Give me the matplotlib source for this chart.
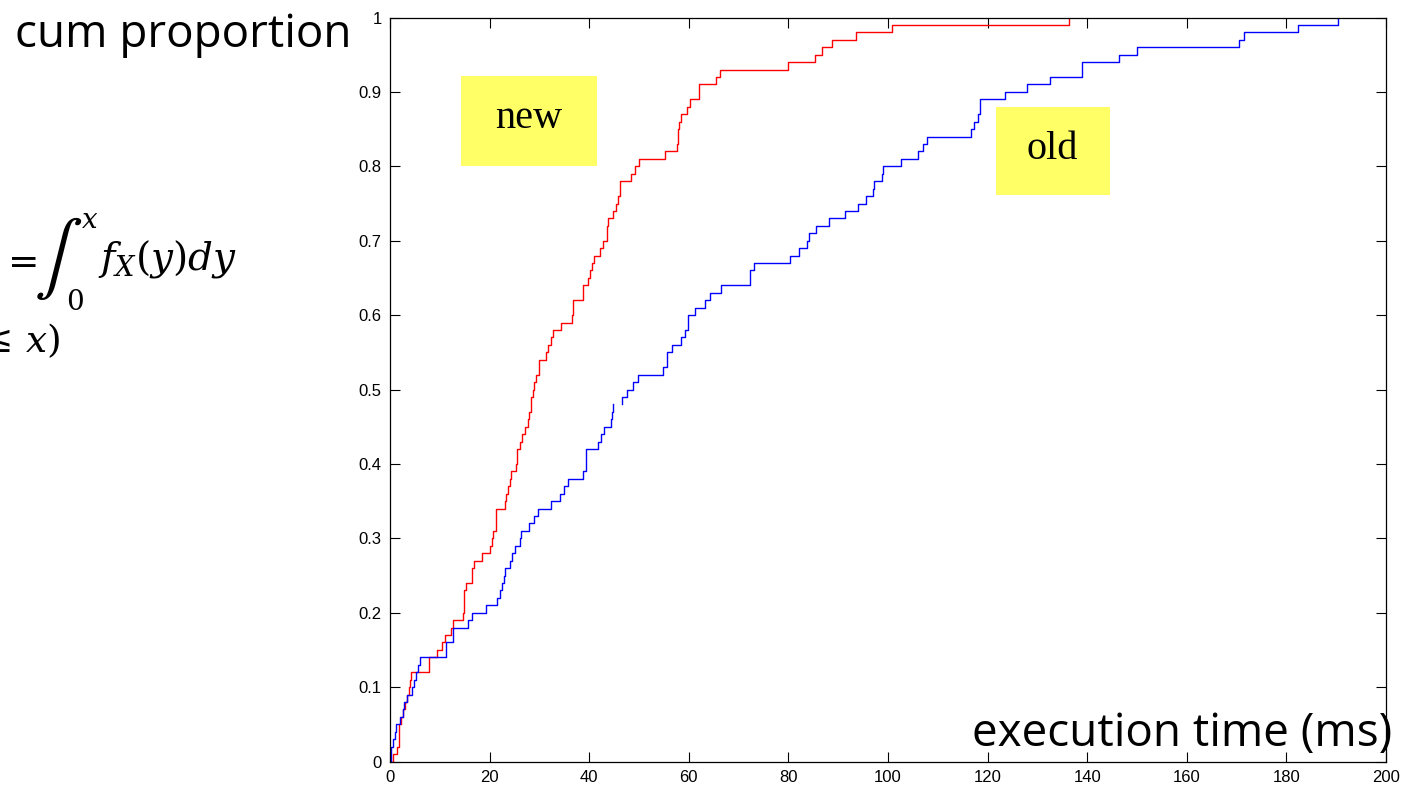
import numpy as np
import matplotlib.pyplot as plt
from matplotlib.patches import Rectangle

# step points of the empirical CDFs: execution time (ms) and cumulative proportion
new_t = [0, 0.67, 1.5, 1.75, 2.2, 2.7, 3.0, 3.35, 3.75, 4.0, 4.2, 7.8, 7.9, 9.4,
         10.4, 11.0, 12.2, 12.7, 14.7, 14.9, 15.2, 16.4, 16.5, 16.9, 18.5, 20.1,
         20.4, 20.7, 21.3, 23.1, 23.3, 23.6, 24.0, 24.2, 25.4, 25.6, 26.2, 26.6,
         27.1, 27.8, 28.0, 28.3, 28.4, 28.8, 28.9, 29.3, 30.0, 31.3, 31.7, 32.3,
         32.7, 34.3, 36.5, 36.7, 36.8, 38.8, 39.8, 40.2, 40.6, 41.0, 42.2, 42.8,
         43.5, 43.8, 44.7, 45.4, 45.8, 46.2, 48.4, 49.2, 50.0, 55.2, 57.7, 57.9,
         58.1, 58.4, 59.6, 60.2, 62.1, 65.4, 66.3, 79.9, 85.3, 86.7, 88.8, 93.6,
         100.9, 136.4]
new_p = [0, 0.01, 0.02, 0.05, 0.06, 0.07, 0.08, 0.09, 0.10, 0.11, 0.12, 0.13,
         0.14, 0.15, 0.16, 0.17, 0.18, 0.19, 0.20, 0.23, 0.24, 0.25, 0.26, 0.27,
         0.28, 0.29, 0.30, 0.31, 0.34, 0.35, 0.36, 0.37, 0.38, 0.39, 0.40, 0.42,
         0.43, 0.44, 0.45, 0.46, 0.47, 0.48, 0.49, 0.50, 0.51, 0.52, 0.54, 0.55,
         0.56, 0.57, 0.58, 0.59, 0.60, 0.61, 0.62, 0.64, 0.65, 0.66, 0.67, 0.68,
         0.69, 0.70, 0.72, 0.73, 0.74, 0.75, 0.76, 0.78, 0.79, 0.80, 0.81, 0.82,
         0.83, 0.85, 0.86, 0.87, 0.88, 0.89, 0.91, 0.92, 0.93, 0.94, 0.95, 0.96,
         0.97, 0.98, 0.99, 1.00]

# nan marks the short break in the old curve around 45 ms
old_t = [0, 0.2, 0.67, 1.0, 1.3, 2.0, 2.55, 2.9, 3.35, 4.5, 4.9, 5.2, 5.6, 6.0,
         11.2, 12.6, 15.7, 16.4, 19.2, 21.5, 22.1, 22.5, 22.8, 23.1, 24.1, 24.4,
         25.2, 26.1, 26.4, 27.9, 28.9, 29.8, 32.3, 34.1, 34.9, 35.8, 38.8, 39.4,
         41.8, 42.4, 43.0, 44.4, 44.6, 44.8, np.nan, 46.5, 46.5, 47.6, 48.7, 49.7,
         54.9, 55.7, 56.7, 58.4, 59.2, 59.9, 61.2, 63.3, 64.3, 66.5, 72.3, 73.0,
         80.3, 82.2, 83.8, 84.2, 85.5, 88.2, 91.4, 94.0, 95.5, 96.9, 97.2, 98.7,
         98.9, 102.7, 106.1, 107.0, 107.9, 116.6, 117.3, 118.1, 118.5, 123.5,
         128.0, 132.5, 139.0, 146.3, 149.9, 170.5, 171.5, 182.3, 190.4]
old_p = [0, 0.02, 0.03, 0.04, 0.05, 0.06, 0.07, 0.08, 0.09, 0.10, 0.11, 0.12,
         0.13, 0.14, 0.16, 0.18, 0.19, 0.20, 0.21, 0.22, 0.23, 0.24, 0.25, 0.26,
         0.27, 0.28, 0.29, 0.30, 0.31, 0.32, 0.33, 0.34, 0.35, 0.36, 0.37, 0.38,
         0.39, 0.42, 0.43, 0.44, 0.45, 0.46, 0.47, 0.48, np.nan, 0.48, 0.49, 0.50,
         0.51, 0.52, 0.53, 0.55, 0.56, 0.57, 0.58, 0.60, 0.61, 0.62, 0.63, 0.64,
         0.66, 0.67, 0.68, 0.69, 0.70, 0.71, 0.72, 0.73, 0.74, 0.75, 0.76, 0.77,
         0.78, 0.79, 0.80, 0.81, 0.82, 0.83, 0.84, 0.85, 0.86, 0.87, 0.89, 0.90,
         0.91, 0.92, 0.94, 0.95, 0.96, 0.97, 0.98, 0.99, 1.00]

x_ticks = np.arange(0, 201, 20)
y_ticks = np.round(np.arange(0, 1.01, 0.1), 1)

W, H = 1408, 790
fig = plt.figure(figsize=(W / 100, H / 100), dpi=100)
fig.patch.set_facecolor('white')
ax = fig.add_axes([390 / W, 28.5 / H, 996 / W, 744 / H])

ax.step(new_t, new_p, where='post', color='red', lw=1.0)
ax.step(old_t, old_p, where='post', color='blue', lw=1.0)

ax.set_xlim(0, 200)
ax.set_ylim(0, 1)
ax.set_xticks(x_ticks)
ax.set_xticklabels([f'{v:g}' for v in x_ticks])
ax.set_yticks(y_ticks)
ax.set_yticklabels([f'{v:g}' for v in y_ticks])
ax.tick_params(direction='in', top=True, right=True, length=7, width=0.8,
               labelsize=12, pad=6, colors='black')
for lab in ax.get_xticklabels() + ax.get_yticklabels():
    lab.set_family('Liberation Sans')
for sp in ax.spines.values():
    sp.set_color('black')
    sp.set_linewidth(0.9)

# yellow labels
for label, x0, y0, w, h, tx, ty in [('new', 0.0713, 0.801, 0.1365, 0.120, 0.1396, 0.851),
                                    ('old', 0.6080, 0.761, 0.1145, 0.119, 0.6647, 0.810)]:
    ax.add_patch(Rectangle((x0, y0), w, h, transform=ax.transAxes,
                           facecolor='#FFFF66', edgecolor='none', zorder=3, clip_on=False))
    ax.text(tx, ty, label, transform=ax.transAxes, ha='center', va='baseline',
            fontsize=29, family='Liberation Serif', zorder=4)

# slide text around the plot
fig.text(15 / W, 1 - 47 / H, 'cum proportion', fontsize=33, family='Open Sans',
         ha='left', va='baseline')
fig.text(1392 / W, 1 - 746 / H, 'execution time (ms)', fontsize=33,
         family='Open Sans', ha='right', va='baseline')


def px(x, y):
    return x / W, 1 - y / H


# formula on the left edge, built piece by piece so the integral sign is tall
mf = 'dejavuserif'
fig.text(*px(18, 262), r'$=$', fontsize=27, ha='center', va='center', math_fontfamily=mf)
fig.text(*px(58, 259), r'$\int$', fontsize=52, ha='center', va='center',
         math_fontfamily='stix')
fig.text(*px(90, 220), r'$x$', fontsize=20, ha='center', va='center', math_fontfamily=mf)
fig.text(*px(75, 302), r'$0$', fontsize=20, ha='center', va='center', math_fontfamily=mf)
fig.text(*px(98, 270), r'$f_X(y)dy$', fontsize=28, ha='left', va='baseline',
         math_fontfamily=mf)
fig.text(*px(60, 352), r'$\leq\,x)$', fontsize=27, ha='right', va='baseline',
         math_fontfamily=mf)

fig.savefig('out.png', dpi=100)
